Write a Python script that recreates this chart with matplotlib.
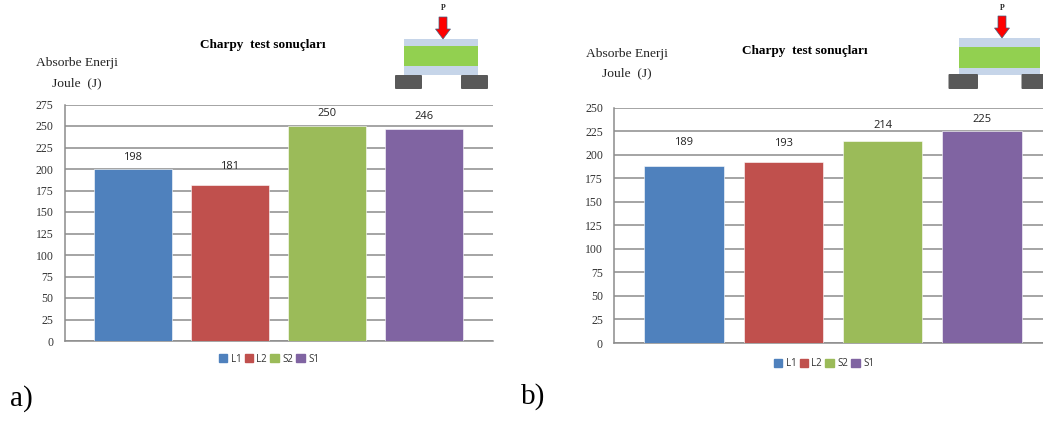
import matplotlib
matplotlib.use("Agg")
import matplotlib.pyplot as plt
from matplotlib.patches import Rectangle, FancyBboxPatch, Polygon

W, H = 1043, 421

categories = ["L1", "L2", "S2", "S1"]
colors = ["#4F81BD", "#C0504D", "#9BBB59", "#8064A2"]

# bar heights as drawn and the labels printed above them
heights_a = [200, 181, 250, 246]
labels_a = [198, 181, 250, 246]
heights_b = [188, 192, 214, 225]
labels_b = [189, 193, 214, 225]

ticks_a = list(range(0, 276, 25))
ticks_b = list(range(0, 251, 25))

title = "Charpy  test sonuçları"
ylabel_1 = "Absorbe Enerji"
ylabel_2 = "Joule  (J)"


def add_axes_px(fig, left, top, right, bottom):
    return fig.add_axes([left / W, 1 - bottom / H, (right - left) / W, (bottom - top) / H])


def draw_chart(fig, box, heights, labels, ticks, xlim, label_gap, legend_xy):
    ax = add_axes_px(fig, *box)
    xs = list(range(len(categories)))
    bars = ax.bar(xs, heights, width=0.80, color=colors, zorder=3,
                  edgecolor="white", linewidth=0.4)
    ax.set_xlim(*xlim)
    ax.set_ylim(ticks[0], ticks[-1])
    ax.set_yticks(ticks)
    ax.set_xticks([])
    ax.tick_params(axis="y", length=0, pad=8, labelsize=8.5, labelcolor="#333333")
    for lab in ax.get_yticklabels():
        lab.set_family("Liberation Serif")
    ax.grid(axis="y", color="#8C8C8C", linewidth=1.1, zorder=1)
    ax.set_axisbelow(True)
    for side in ["top", "right"]:
        ax.spines[side].set_visible(False)
    for side in ["left", "bottom"]:
        ax.spines[side].set_color("#8C8C8C")
        ax.spines[side].set_linewidth(1.1)

    for bar, lab, gap in zip(bars, labels, label_gap):
        ax.annotate(str(lab), (bar.get_x() + bar.get_width() / 2, bar.get_height()),
                    xytext=(0, gap), textcoords="offset pixels", ha="center", va="center",
                    fontsize=8, family="Open Sans", color="#222222", zorder=4, clip_on=False)

    handles = [Rectangle((0, 0), 1, 1, color=c) for c in colors]
    fig.legend(handles, categories, loc="center",
               bbox_to_anchor=(legend_xy[0] / W, 1 - legend_xy[1] / H),
               ncol=4, frameon=False, handlelength=0.85, handleheight=0.95,
               handletextpad=0.35, columnspacing=0.35, labelcolor="#333333",
               prop={"family": "Open Sans", "size": 7})
    return ax


def draw_sketch(ov, x0, x1, top, g_top, g_bot, bot, sup_w, sup_top, sup_bot, sup_l, sup_r, ax_c, arrow_top, arrow_tip):
    ov.add_patch(Rectangle((x0, top), x1 - x0, bot - top, color="#C6D5E9", lw=0))
    ov.add_patch(Rectangle((x0, g_top), x1 - x0, g_bot - g_top, color="#92D050", lw=0))
    for sx in (sup_l, sup_r):
        ov.add_patch(FancyBboxPatch((sx + 1, sup_top + 1), sup_w - 2, sup_bot - sup_top - 2,
                                    boxstyle="round,pad=1", color="#595959", lw=0))
    ov.add_patch(Polygon([(ax_c - 4, arrow_top), (ax_c + 4, arrow_top), (ax_c + 4, arrow_tip - 10),
                          (ax_c + 7.5, arrow_tip - 10), (ax_c, arrow_tip), (ax_c - 7.5, arrow_tip - 10),
                          (ax_c - 4, arrow_tip - 10)], closed=True, facecolor="#FF0000",
                         edgecolor="#44607F", lw=0.5))
    ov.text(ax_c, 8, "P", ha="center", va="center", fontsize=5.5, fontweight="bold",
            family="Liberation Serif", color="#222222")


fig = plt.figure(figsize=(W / 100, H / 100), dpi=100)

draw_chart(fig, (64.5, 104.5, 493, 341), heights_a, labels_a, ticks_a, (-0.706, 3.71),
           [11, 19, 13, 13], (269, 359))
draw_chart(fig, (614, 107.5, 1043, 343), heights_b, labels_b, ticks_b, (-0.705, 3.615),
           [23, 19, 16, 12], (824, 364))

# overlay in pixel coordinates for the text and the test sketch
ov = fig.add_axes([0, 0, 1, 1], zorder=5)
ov.set_xlim(0, W)
ov.set_ylim(H, 0)
ov.axis("off")

ov.text(263, 45, title, ha="center", va="center", fontsize=9.5, fontweight="bold", family="Liberation Serif")
ov.text(805, 51, title, ha="center", va="center", fontsize=9.5, fontweight="bold", family="Liberation Serif")
ov.text(76.5, 63, ylabel_1, ha="center", va="center", fontsize=9.7, family="Liberation Serif", color="#222222")
ov.text(77, 83, ylabel_2, ha="center", va="center", fontsize=9.7, family="Liberation Serif", color="#222222")
ov.text(626.5, 54, ylabel_1, ha="center", va="center", fontsize=9.7, family="Liberation Serif", color="#222222")
ov.text(626.5, 73, ylabel_2, ha="center", va="center", fontsize=9.7, family="Liberation Serif", color="#222222")
ov.text(21.5, 399, "a)", ha="center", va="center", fontsize=21, family="Liberation Serif")
ov.text(533, 397, "b)", ha="center", va="center", fontsize=21, family="Liberation Serif")

draw_sketch(ov, 404, 478, 39, 45.5, 66, 75, 27, 75, 89, 395, 461, 443, 17, 39)
draw_sketch(ov, 958.5, 1040, 38, 47, 68, 75, 29.5, 74, 89, 948.5, 1021.5, 1002, 16, 38)

fig.savefig("out.png", dpi=100)
